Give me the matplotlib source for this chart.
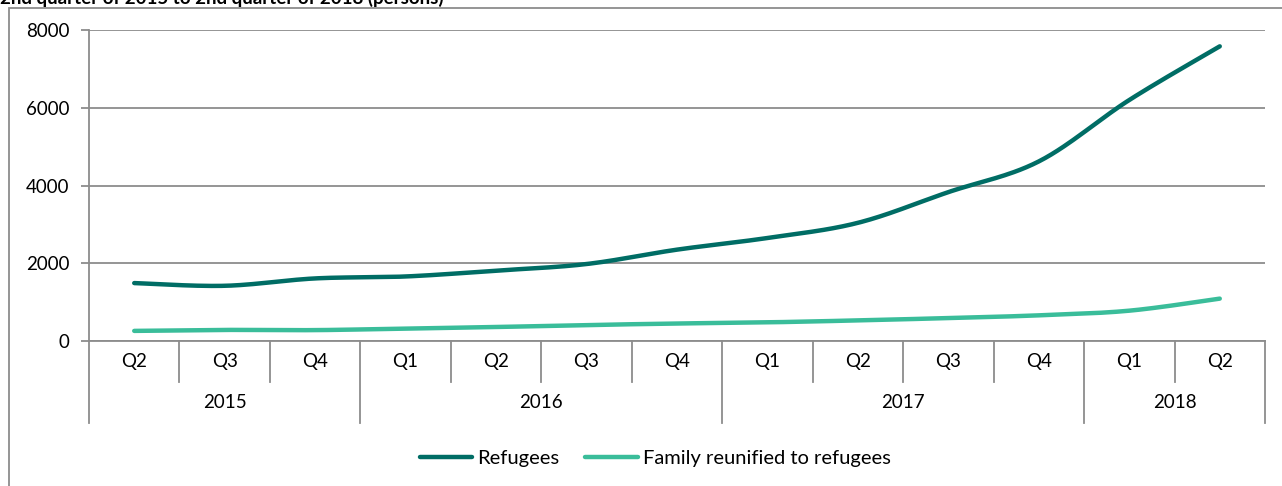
import numpy as np
import matplotlib
matplotlib.use("Agg")
import matplotlib.pyplot as plt
from matplotlib.lines import Line2D
from matplotlib.patches import Rectangle

quarters = ["Q2", "Q3", "Q4", "Q1", "Q2", "Q3", "Q4", "Q1", "Q2", "Q3", "Q4", "Q1", "Q2"]
years = ["2015"] * 3 + ["2016"] * 4 + ["2017"] * 4 + ["2018"] * 2
refugees = [1490, 1420, 1610, 1660, 1810, 1980, 2350, 2650, 3040, 3830, 4620, 6200, 7580]
family = [260, 285, 280, 320, 360, 410, 450, 480, 530, 590, 660, 780, 1090]
title = "2nd quarter of 2015 to 2nd quarter of 2018 (persons)"

DARK = "#006d65"
LIGHT = "#3abd9a"
GRID = "#8c8c8c"

plt.rcParams["font.family"] = ["Lato", "DejaVu Sans"]


def smooth(xs, ys, n=30):
    # Catmull-Rom style curve, similar to spreadsheet "smoothed line"
    xs = np.asarray(xs, float)
    ys = np.asarray(ys, float)
    px = np.concatenate([[xs[0]], xs, [xs[-1]]])
    py = np.concatenate([[ys[0]], ys, [ys[-1]]])
    ox, oy = [], []
    for i in range(1, len(px) - 2):
        t = np.linspace(0, 1, n)
        for p, out in ((px, ox), (py, oy)):
            p0, p1, p2, p3 = p[i - 1], p[i], p[i + 1], p[i + 2]
            out.extend(0.5 * ((2 * p1) + (-p0 + p2) * t
                              + (2 * p0 - 5 * p1 + 4 * p2 - p3) * t ** 2
                              + (-p0 + 3 * p1 - 3 * p2 + p3) * t ** 3))
    return ox, oy


fig = plt.figure(figsize=(12.82, 4.86), dpi=100)
ax = fig.add_axes([89 / 1282, 1 - 341 / 486, (1265 - 89) / 1282, (341 - 30) / 486])

x = np.arange(len(quarters))
sx, sy = smooth(x, refugees)
ax.plot(sx, sy, color=DARK, lw=3.2, solid_capstyle="round")
sx, sy = smooth(x, family)
ax.plot(sx, sy, color=LIGHT, lw=3.2, solid_capstyle="round")

ax.set_xlim(-0.5, len(quarters) - 0.5)
ax.set_ylim(0, 8000)
ax.set_yticks([0, 2000, 4000, 6000, 8000])
ax.yaxis.grid(True, color=GRID, lw=1.3)
ax.set_axisbelow(True)
ax.tick_params(axis="y", length=6, width=1.3, color=GRID, labelsize=13.5, pad=8)
ax.set_xticks([])
for side in ["top", "right"]:
    ax.spines[side].set_visible(False)
for side in ["left", "bottom"]:
    ax.spines[side].set_color(GRID)
    ax.spines[side].set_linewidth(1.3)

# multi-level category axis
tr = ax.get_xaxis_transform()
ah = 311.0
for i in range(len(quarters) + 1):
    xb = i - 0.5
    new_year = i == 0 or i == len(quarters) or years[i] != years[i - 1]
    depth = 82 if new_year else 41
    ax.plot([xb, xb], [0, -depth / ah], transform=tr, color=GRID, lw=1.3, clip_on=False)
for i, q in enumerate(quarters):
    ax.text(i, -20 / ah, q, transform=tr, ha="center", va="center", fontsize=13.5)
for yr in dict.fromkeys(years):
    idx = [i for i, y in enumerate(years) if y == yr]
    ax.text((idx[0] + idx[-1]) / 2, -62 / ah, yr, transform=tr, ha="center", va="center", fontsize=13.5)

handles = [Line2D([], [], color=DARK, lw=3.2, solid_capstyle="round"),
           Line2D([], [], color=LIGHT, lw=3.2, solid_capstyle="round")]
fig.legend(handles, ["Refugees", "Family reunified to refugees"], loc="center",
           bbox_to_anchor=(655 / 1282, 1 - 458 / 486), ncol=2, frameon=False,
           fontsize=14.5, handlelength=2.6, handletextpad=0.25, columnspacing=1.3)

# outer chart frame and clipped title
fig.patches.append(Rectangle((9 / 1282, -0.1), 1.2, 1.1 - 8 / 486, transform=fig.transFigure,
                             fill=False, edgecolor=GRID, lw=1.3))
fig.text(0.0, 1 - 4 / 486, title, fontsize=13.5, fontweight="bold", va="baseline", ha="left")

fig.savefig("out.png", dpi=100)
